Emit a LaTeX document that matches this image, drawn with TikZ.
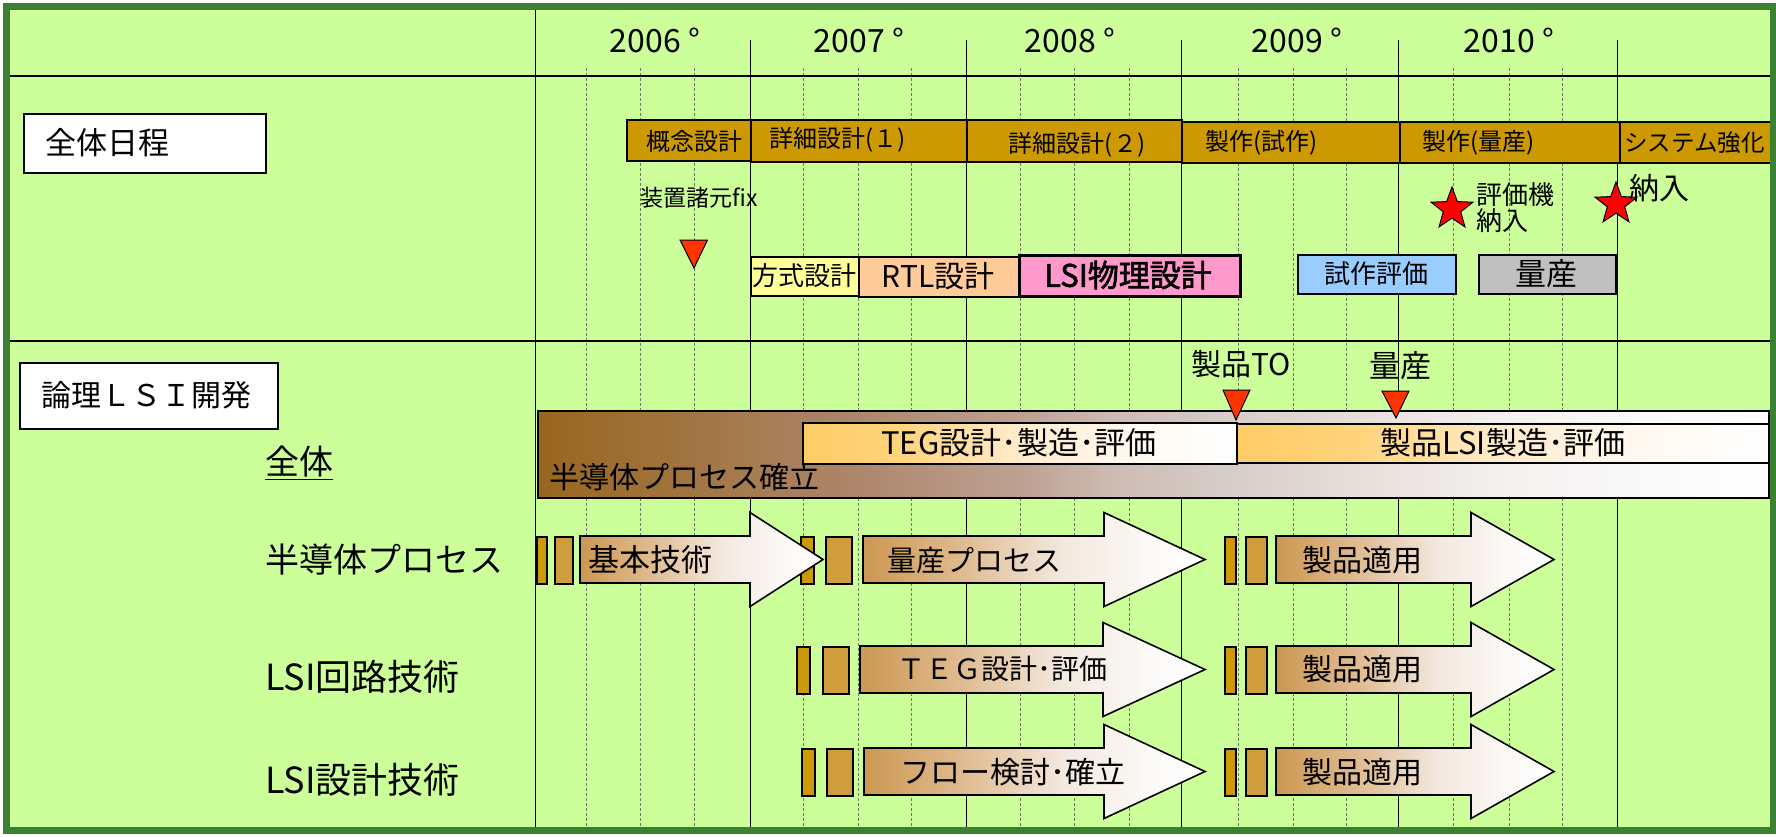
\documentclass[tikz,border=0pt]{standalone}
\usepackage{fontspec}
\setmainfont{Noto Sans CJK JP}
\newfontfamily\jpbold[FakeBold=2]{Noto Sans CJK JP}
\usetikzlibrary{shapes.geometric}
\newcommand\fsz[1]{\fontsize{#1}{#1}\selectfont}
\definecolor{bg}{RGB}{204,255,153}
\definecolor{framegreen}{RGB}{60,128,50}
\definecolor{gridd}{RGB}{105,125,95}
\definecolor{phasegold}{RGB}{204,153,0}
\definecolor{smallA}{RGB}{204,153,10}
\definecolor{smallB}{RGB}{207,158,58}
\definecolor{markred}{RGB}{255,51,0}
\definecolor{hoshi}{RGB}{255,0,0}
\definecolor{ylw}{RGB}{255,255,153}
\definecolor{peach}{RGB}{255,204,153}
\definecolor{pinkc}{RGB}{255,153,204}
\definecolor{skyb}{RGB}{153,204,255}
\definecolor{gry}{RGB}{192,192,192}
\definecolor{aL}{RGB}{204,152,82}
\definecolor{aM}{RGB}{224,188,146}
\definecolor{aN}{RGB}{243,232,222}
\definecolor{aR}{RGB}{252,250,248}
\definecolor{bA}{RGB}{153,102,30}
\definecolor{bB}{RGB}{160,115,60}
\definecolor{bC}{RGB}{172,133,105}
\definecolor{bD}{RGB}{190,160,145}
\definecolor{bE}{RGB}{205,188,180}
\definecolor{bF}{RGB}{215,205,200}
\definecolor{bG}{RGB}{235,228,225}
\definecolor{bH}{RGB}{245,243,242}
\definecolor{tA}{RGB}{255,204,102}
\definecolor{tB}{RGB}{255,212,125}
\definecolor{tC}{RGB}{255,235,205}
\definecolor{tD}{RGB}{255,248,240}
\pgfdeclarehorizontalshading{arrowshade}{100bp}{color(0bp)=(aL); color(25bp)=(aL); color(40bp)=(aM); color(54bp)=(aN); color(67.5bp)=(aR); color(75bp)=(white); color(100bp)=(white)}
\pgfdeclarehorizontalshading{procshade}{100bp}{color(0bp)=(bA); color(25bp)=(bA); color(30.25bp)=(bB); color(37.5bp)=(bC); color(44.5bp)=(bD); color(48.5bp)=(bE); color(53bp)=(bF); color(60bp)=(bG); color(65bp)=(bH); color(75bp)=(white); color(100bp)=(white)}
\pgfdeclarehorizontalshading{tegshade}{100bp}{color(0bp)=(tA); color(25bp)=(tA); color(36.5bp)=(tB); color(50bp)=(tC); color(62.5bp)=(tD); color(75bp)=(white); color(100bp)=(white)}
% box node from corners: name, style, x1, y1, x2, y2
\newcommand\rbox[6]{\node[#2, anchor=north west, inner sep=0pt, minimum width={#5-#3}, minimum height={#6-#4}] (#1) at (#3,#4) {};}
% arrow: start x, head base x, tip x, centre y
\newcommand\flowarrow[4]{\path[arrowbody] (#1,#4-23.5) -- (#2,#4-23.5) -- (#2,#4-47) -- (#3,#4) -- (#2,#4+47) -- (#2,#4+23.5) -- (#1,#4+23.5) -- cycle;}
\begin{document}
\begin{tikzpicture}[x=1pt,y=-1pt,
  txt/.style={inner sep=0pt, text=black},
  lt/.style={txt, anchor=west},
  dgrid/.style={draw=gridd, line width=0.8pt, dash pattern=on 3pt off 2pt},
  sgrid/.style={draw=black, line width=1pt},
  hline/.style={draw=black, line width=2pt},
  phase/.style={draw=black, line width=1.6pt, fill=phasegold},
  boxc/.style={draw=black, line width=1.6pt},
  hdr/.style={draw=black, line width=2pt, fill=white},
  tri/.style={draw=black, line width=1pt, fill=markred},
  procbar/.style={draw=black, line width=1.6pt, shading=procshade},
  tegbar/.style={draw=black, line width=1.6pt, shading=tegshade},
  arrowbody/.style={draw=black, line width=1.6pt, shading=arrowshade},
  sbarA/.style={draw=black, line width=1.6pt, fill=smallA},
  sbarB/.style={draw=black, line width=1.6pt, fill=smallB},
  starm/.style={star, star points=5, star point ratio=2.4, minimum size=44pt, inner sep=0pt, fill=hoshi, draw=black, line width=1pt}
]
\useasboundingbox (0,0) rectangle (1776,836);
\fill[white] (0,0) rectangle (1776,836);
\fill[bg] (4,4) rectangle (1772,832);
% grid
\foreach \x in {586,640,694,803,858,911,1020,1074,1129,1238,1293,1346,1453,1509,1562}
  \draw[dgrid] (\x,68) -- (\x,828);
\foreach \x in {750,966,1181,1398,1617}
  \draw[sgrid] (\x,40) -- (\x,828);
\draw[sgrid] (535,8) -- (535,828);
\draw[hline] (8,76) -- (1770,76);
\draw[hline] (8,341) -- (1770,341);
% years
\node[txt, font=\fsz{32}] (y2006) at (655,40) {2006 °};
\node[txt, font=\fsz{32}] (y2007) at (859,40) {2007 °};
\node[txt, font=\fsz{32}] (y2008) at (1070,40) {2008 °};
\node[txt, font=\fsz{32}] (y2009) at (1297,40) {2009 °};
\node[txt, font=\fsz{32}] (y2010) at (1509,40) {2010 °};
% schedule header
\rbox{sched}{hdr}{23}{113}{265}{172}
\node[lt, font=\fsz{31}] (schedt) at (45,143) {全体日程};
% phase bars
\rbox{ph1}{phase}{626}{119}{750}{160}
\rbox{ph2}{phase}{750}{119}{966}{161}
\rbox{ph3}{phase}{966}{119}{1181}{161}
\rbox{ph4}{phase}{1181}{121}{1399}{162}
\rbox{ph5}{phase}{1399}{121}{1619}{162}
\rbox{ph6}{phase}{1619}{121}{1780}{162}
\node[txt, font=\fsz{24}] (ph1t) at (694,141) {概念設計};
\node[lt, font=\fsz{24}] (ph2t) at (769,140) {詳細設計(１)};
\node[txt, font=\fsz{24}] (ph3t) at (1077,145) {詳細設計(２)};
\node[lt, font=\fsz{24}] (ph4t) at (1205,143) {製作(試作)};
\node[lt, font=\fsz{24}] (ph5t) at (1422,143) {製作(量産)};
\node[lt, font=\fsz{23.5}] (ph6t) at (1624,143) {システム強化};
% milestone
\node[txt, font=\fsz{23}] (fix) at (699,198) {装置諸元fix};
\draw[tri] (680,240) -- (707.5,240) -- (694,268) -- cycle;
% design boxes
\rbox{b1}{boxc, fill=ylw}{750}{256}{858}{295}
\rbox{b2}{boxc, fill=peach}{858}{256}{1018}{296}
\rbox{b3}{boxc, fill=pinkc, line width=3pt}{1018}{254}{1239}{295}
\rbox{b4}{boxc, fill=skyb}{1297}{254}{1455}{293}
\rbox{b5}{boxc, fill=gry}{1478}{254}{1615}{293}
\node[txt, font=\fsz{26}] (b1t) at (804,276) {方式設計};
\node[txt, font=\fsz{30}] (b2t) at (938,276) {RTL設計};
\node[txt, font=\jpbold\fsz{31}] (b3t) at (1128,275) {LSI物理設計};
\node[txt, font=\fsz{26}] (b4t) at (1376,274) {試作評価};
\node[txt, font=\fsz{31}] (b5t) at (1546,274) {量産};
% stars
\node[starm] (s1) at (1452,209) {};
\node[starm] (s2) at (1616,204) {};
\node[lt, font=\fsz{26}, align=left, text depth=0pt] (s1t) at (1476,207) {\fontsize{26}{31}\selectfont 評価機\\納入};
\node[lt, font=\fsz{30}] (s2t) at (1629,188) {納入};
% section 2
\rbox{lsi}{hdr}{19}{362}{277}{428}
\node[lt, font=\fsz{30}] (lsit) at (41,395) {論理ＬＳＩ開発};
\node[lt, font=\fsz{34}] (zentai) at (265,463) {\underline{全体}};
\node[lt, font=\fsz{34}] (r1) at (265,560) {半導体プロセス};
\node[lt, font=\fsz{36}] (r2) at (265,677) {LSI回路技術};
\node[lt, font=\fsz{36}] (r3) at (265,780) {LSI設計技術};
% overall bars
\rbox{proc}{procbar}{537}{410}{1768}{497}
\node[lt, font=\fsz{30}] (proct) at (549,477) {半導体プロセス確立};
\rbox{teg}{tegbar}{802}{422}{1236}{463}
\rbox{prod}{tegbar}{1236}{423}{1768}{462}
\node[txt, font=\fsz{31}] (tegt) at (1019,443) {TEG設計･製造･評価};
\node[txt, font=\fsz{31}] (prodt) at (1503,443) {製品LSI製造･評価};
\draw[tri] (1223,390) -- (1250,390) -- (1236,420) -- cycle;
\draw[tri] (1382,391) -- (1409,391) -- (1396,418) -- cycle;
\node[txt, font=\fsz{30}] (tot) at (1241,364) {製品TO};
\node[txt, font=\fsz{31}] (mpt) at (1400,366) {量産};
% row 1
\rbox{r1a1}{sbarA}{536}{536}{546}{583}
\rbox{r1a2}{sbarB}{554}{536}{572}{583}
\rbox{r1b1}{sbarA}{800}{536}{813}{583}
\rbox{r1b2}{sbarB}{825}{536}{851}{583}
\rbox{r1c1}{sbarA}{1224}{536}{1235}{583}
\rbox{r1c2}{sbarB}{1245}{536}{1266}{583}
\flowarrow{580}{750}{823}{559.5}
\flowarrow{863}{1104}{1205}{559.5}
\flowarrow{1276}{1471}{1554}{559.5}
\node[lt, font=\fsz{31}] (r1at) at (588,560) {基本技術};
\node[lt, font=\fsz{29}] (r1bt) at (887,560) {量産プロセス};
\node[lt, font=\fsz{30}] (r1ct) at (1302,560) {製品適用};
% row 2
\rbox{r2b1}{sbarA}{796}{646}{809}{693}
\rbox{r2b2}{sbarB}{822}{646}{848}{693}
\rbox{r2c1}{sbarA}{1224}{646}{1235}{693}
\rbox{r2c2}{sbarB}{1245}{646}{1266}{693}
\flowarrow{860}{1103}{1205}{669.5}
\flowarrow{1276}{1471}{1554}{669.5}
\node[lt, font=\fsz{28}] (r2bt) at (897,669) {ＴＥＧ設計･評価};
\node[lt, font=\fsz{30}] (r2ct) at (1302,669) {製品適用};
% row 3
\rbox{r3b1}{sbarA}{801}{748}{814}{795}
\rbox{r3b2}{sbarB}{826}{748}{852}{795}
\rbox{r3c1}{sbarA}{1224}{748}{1235}{795}
\rbox{r3c2}{sbarB}{1245}{748}{1266}{795}
\flowarrow{864}{1104}{1205}{771.5}
\flowarrow{1276}{1471}{1554}{771.5}
\node[lt, font=\fsz{30}] (r3bt) at (900,772) {フロー検討･確立};
\node[lt, font=\fsz{30}] (r3ct) at (1302,772) {製品適用};
% frame
\draw[framegreen, line width=7pt] (6.5,6.5) rectangle (1773,830);
\end{tikzpicture}
\end{document}
